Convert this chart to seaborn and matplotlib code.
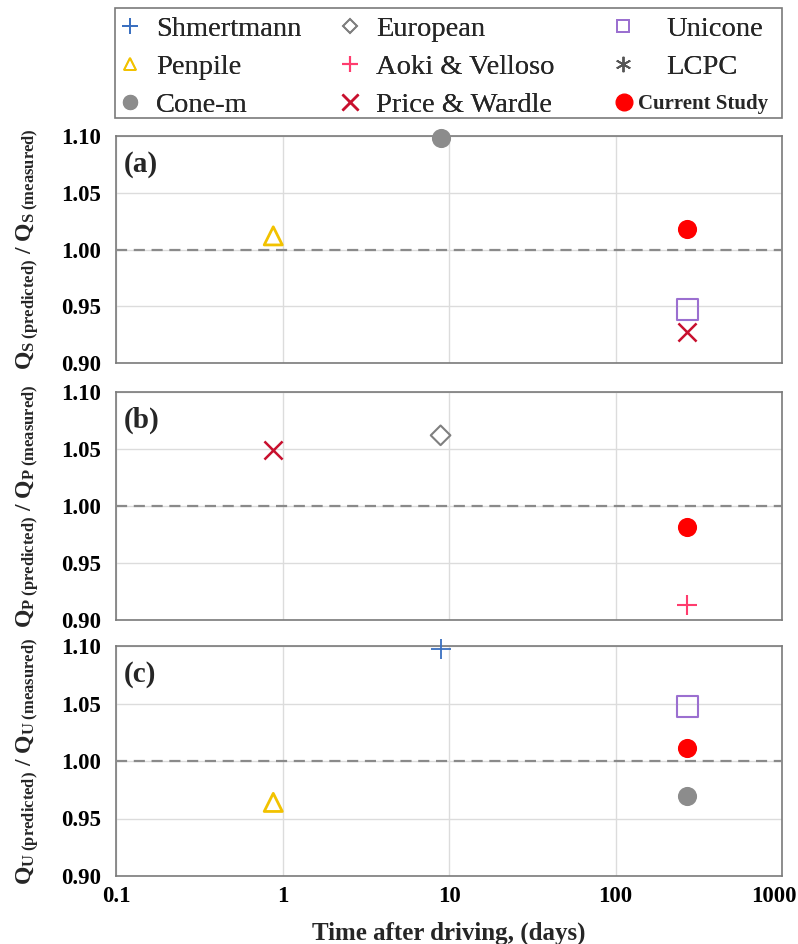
import numpy as np
import pandas as pd
import matplotlib
matplotlib.use("Agg")
import matplotlib.pyplot as plt
import matplotlib.transforms as mtransforms
from matplotlib.lines import Line2D
from matplotlib.patches import Rectangle
import seaborn as sns

sns.set_theme(style="white")
plt.rcParams['font.family'] = ['Liberation Serif', 'DejaVu Serif']
plt.rcParams['mathtext.fontset'] = 'custom'
plt.rcParams['mathtext.rm'] = 'Liberation Serif'
plt.rcParams['mathtext.bf'] = 'Liberation Serif:bold'
plt.rcParams['mathtext.it'] = 'Liberation Serif:italic'

# ---------------- data ----------------
methods = ["Shmertmann", "Penpile", "Cone-m", "European", "Aoki & Velloso",
           "Price & Wardle", "Unicone", "LCPC", "Current Study"]

# panel (a) shaft
a_methods = ["Penpile", "Cone-m", "Current Study", "Unicone", "Price & Wardle"]
a_time = [0.88, 8.9, 270, 270, 270]
a_ratio = [1.012, 1.098, 1.018, 0.947, 0.927]

# panel (b) toe
b_methods = ["Price & Wardle", "European", "Current Study", "Aoki & Velloso"]
b_time = [0.88, 8.9, 270, 270]
b_ratio = [1.049, 1.062, 0.982, 0.913]

# panel (c) total
c_methods = ["Shmertmann", "Unicone", "Current Study", "Cone-m", "Penpile"]
c_time = [8.9, 270, 270, 270, 0.88]
c_ratio = [1.097, 1.047, 1.011, 0.970, 0.964]

x_ticks = [0.1, 1, 10, 100, 1000]
x_tick_labels = ["0.1", "1", "10", "100", "1000"]
y_ticks = [0.90, 0.95, 1.00, 1.05, 1.10]

# ---------------- styles ----------------
style = {
    "Shmertmann":     dict(marker="+", color="#3a6fc0", filled=False, s=200, lw=1.3),
    "Penpile":        dict(marker="^", color="#f2c200", filled=False, s=170, lw=2.0),
    "Cone-m":         dict(marker="o", color="#8c8c8c", filled=True,  s=190, lw=0),
    "European":       dict(marker="D", color="#7f7f7f", filled=False, s=100, lw=1.5),
    "Aoki & Velloso": dict(marker="+", color="#ff3c6e", filled=False, s=200, lw=1.5),
    "Price & Wardle": dict(marker="x", color="#c8102e", filled=False, s=170, lw=1.8),
    "Unicone":        dict(marker="s", color="#9b6fd0", filled=False, s=230, lw=1.5),
    "LCPC":           dict(marker=(6, 2, 0), color="#555555", filled=False, s=120, lw=1.2),
    "Current Study":  dict(marker="o", color="#ff0000", filled=True,  s=190, lw=0),
}

W, H = 798, 944
fig = plt.figure(figsize=(W / 100, H / 100), dpi=100)

left, right = 116 / W, 782 / W
panels = [
    ("(a)", a_methods, a_time, a_ratio, 136, 363, "S"),
    ("(b)", b_methods, b_time, b_ratio, 392, 620, "P"),
    ("(c)", c_methods, c_time, c_ratio, 646, 876, "U"),
]

for i, (lab, meths, times, ratios, top, bot, sub) in enumerate(panels):
    ax = fig.add_axes([left, 1 - bot / H, right - left, (bot - top) / H])
    df = pd.DataFrame({"method": meths, "time": times, "ratio": ratios})
    for m in meths:
        st = style[m]
        d = df[df["method"] == m]
        if st["filled"]:
            sns.scatterplot(data=d, x="time", y="ratio", ax=ax, marker=st["marker"],
                            color=st["color"], s=st["s"], linewidth=0, zorder=5,
                            clip_on=False, legend=False)
        elif st["marker"] in ("+", "x") or isinstance(st["marker"], tuple):
            sns.scatterplot(data=d, x="time", y="ratio", ax=ax, marker=st["marker"],
                            color=st["color"], s=st["s"], linewidths=st["lw"], zorder=5,
                            clip_on=False, legend=False)
        else:
            sns.scatterplot(data=d, x="time", y="ratio", ax=ax, marker=st["marker"],
                            facecolor="none", edgecolor=st["color"], s=st["s"],
                            linewidth=st["lw"], zorder=5, clip_on=False, legend=False)
    ax.set_xscale("log")
    ax.set_xlim(0.1, 1000)
    ax.set_ylim(0.90, 1.10)
    ax.set_xticks(x_ticks)
    ax.minorticks_off()
    ax.set_yticks(y_ticks)
    ax.set_yticklabels([f"{v:.2f}" for v in y_ticks], fontsize=16.5, fontweight="bold")
    ax.grid(True, which="major", color="#dcdcdc", linewidth=1.0)
    ax.axhline(1.0, color="#8a8a8a", linestyle=(0, (5, 3)), linewidth=1.6, zorder=3)
    for sp in ax.spines.values():
        sp.set_color("#7a7a7a")
        sp.set_linewidth(1.2)
    ax.tick_params(axis="both", direction="in", length=4, color="#7a7a7a",
                   labelcolor="black")
    ax.tick_params(axis="y", pad=11)
    ax.tick_params(axis="x", pad=7)
    if i == 2:
        ax.set_xticklabels(x_tick_labels, fontsize=16.5, fontweight="bold")
        ax.set_xlabel("Time after driving, (days)", fontsize=18, fontweight="bold",
                      labelpad=11)
    else:
        ax.set_xticklabels([])
        ax.set_xlabel("")
    ax.text(0.011, 0.935, lab, transform=ax.transAxes, fontsize=21,
            fontweight="bold", va="top", ha="left")
    ylab = (r"$\mathbf{Q}_{\mathbf{" + sub + r"\ (predicted)}}$" + " / " +
            r"$\mathbf{Q}_{\mathbf{" + sub + r"\ (measured)}}$")
    ax.set_ylabel(ylab, fontsize=17, fontweight="bold")
    ax.yaxis.set_label_coords(-0.113, 0.5)
    if i == 2:
        fig.canvas.draw()
        last = ax.xaxis.get_major_ticks()[-1].label1
        last.set_transform(last.get_transform() +
                           mtransforms.ScaledTranslation(-8 / 100, 0, fig.dpi_scale_trans))

# ---------------- legend ----------------
def make_handle(m, big=False):
    st = style[m]
    if st["filled"]:
        return Line2D([], [], linestyle="none", marker=st["marker"], color=st["color"],
                      markersize=12 if big else 10)
    if st["marker"] in ("+", "x") or isinstance(st["marker"], tuple):
        return Line2D([], [], linestyle="none", marker=st["marker"], color=st["color"],
                      markersize=11, markeredgewidth=st["lw"])
    return Line2D([], [], linestyle="none", marker=st["marker"], markerfacecolor="none",
                  markeredgecolor=st["color"],
                  markersize=7 if st["marker"] == "D" else 9, markeredgewidth=1.3)

box = Rectangle((115 / W, 1 - 118 / H), (782 - 115) / W, (118 - 8) / H,
                transform=fig.transFigure, fill=False, edgecolor="#7a7a7a",
                linewidth=1.2)
fig.patches.append(box)

legend_cols = [
    (methods[0:3], 119, 0.5),
    (methods[3:6], 339, 0.5),
    (methods[6:8], 612, 1.1),
]
for names, x0, tpad in legend_cols:
    lg = fig.legend([make_handle(n) for n in names], names, loc="upper left",
                    bbox_to_anchor=(x0 / W, 1 - 16 / H), frameon=False,
                    fontsize=20.5, borderpad=0, borderaxespad=0,
                    handlelength=0.8, handletextpad=tpad, labelspacing=0.42)
    fig.add_artist(lg)

lg = fig.legend([make_handle("Current Study", big=True)], ["Current Study"],
                loc="center left", bbox_to_anchor=(617 / W, 1 - 104 / H), frameon=False,
                borderpad=0, borderaxespad=0, handlelength=0.7,
                handletextpad=0.3,
                prop={"weight": "bold", "size": 15})

fig.savefig("out.png", dpi=100)
